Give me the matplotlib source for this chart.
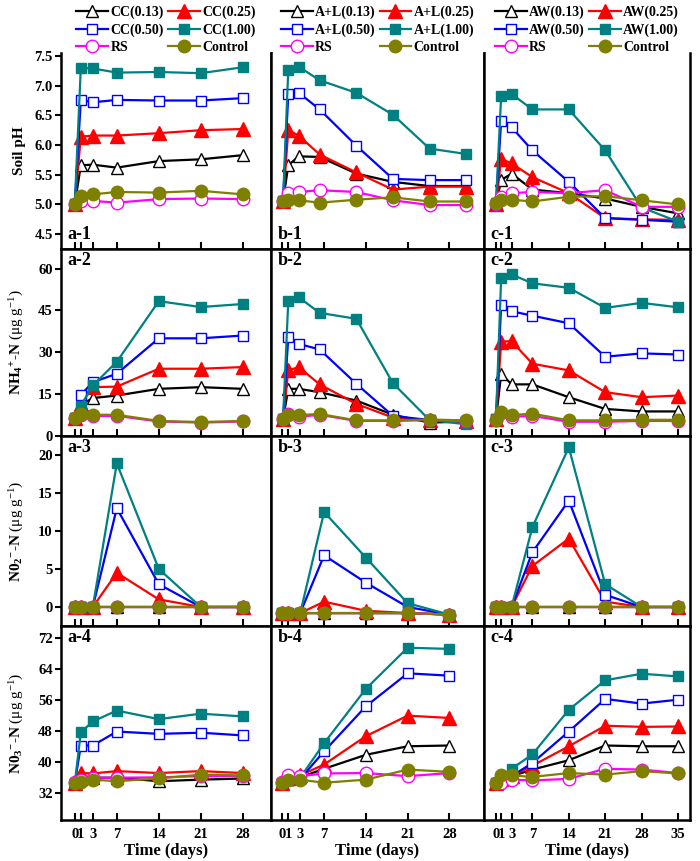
import matplotlib.pyplot as plt
from matplotlib.ticker import FormatStrFormatter

plt.rcParams['font.family'] = ['Liberation Serif', 'DejaVu Serif']
plt.rcParams['font.weight'] = 'bold'
plt.rcParams['axes.labelweight'] = 'bold'
plt.rcParams['mathtext.fontset'] = 'custom'
plt.rcParams['mathtext.rm'] = 'Liberation Serif:weight=normal'
plt.rcParams['mathtext.bf'] = 'Liberation Serif:bold'
plt.rcParams['mathtext.it'] = 'Liberation Serif:italic:weight=normal'

# sampling days
days7 = [0, 1, 3, 7, 14, 21, 28]
days8 = [0, 1, 3, 7, 14, 21, 28, 35]
tick_days = [0, 1, 3, 7, 14, 21, 28]
tick_days_c = [0, 1, 3, 7, 14, 21, 28, 35]

# series order: (0.13), (0.25), (0.50), (1.00), RS, Control
ph_a = [[5.0, 5.66, 5.67, 5.62, 5.73, 5.76, 5.83],
        [5.0, 6.14, 6.16, 6.16, 6.20, 6.25, 6.27],
        [5.0, 6.76, 6.72, 6.76, 6.75, 6.75, 6.79],
        [5.0, 7.30, 7.29, 7.22, 7.23, 7.21, 7.31],
        [5.0, 5.06, 5.06, 5.03, 5.09, 5.10, 5.09],
        [5.0, 5.15, 5.17, 5.21, 5.20, 5.23, 5.17]]
ph_b = [[5.05, 5.66, 5.81, 5.80, 5.52, 5.38, 5.31, 5.31],
        [5.05, 6.25, 6.16, 5.84, 5.54, 5.25, 5.30, 5.30],
        [5.05, 6.86, 6.88, 6.60, 5.99, 5.43, 5.41, 5.41],
        [5.05, 7.27, 7.32, 7.09, 6.88, 6.51, 5.94, 5.85],
        [5.05, 5.19, 5.21, 5.24, 5.21, 5.07, 4.99, 4.99],
        [5.05, 5.07, 5.07, 5.03, 5.08, 5.12, 5.05, 5.05]]
ph_c = [[5.0, 5.41, 5.52, 5.25, 5.19, 5.10, 4.96, 4.85],
        [5.0, 5.77, 5.69, 5.46, 5.19, 4.77, 4.75, 4.74],
        [5.0, 6.41, 6.30, 5.91, 5.38, 4.77, 4.74, 4.71],
        [5.02, 6.83, 6.86, 6.60, 6.60, 5.91, 4.95, 4.71],
        [5.0, 5.13, 5.19, 5.21, 5.19, 5.24, 4.96, 4.96],
        [5.02, 5.07, 5.08, 5.05, 5.13, 5.14, 5.07, 5.0]]

nh4_a = [[6.5, 11.1, 13.6, 14.5, 16.9, 17.5, 16.9],
         [6.5, 11.5, 17.5, 17.7, 24.1, 24.1, 24.7],
         [6.5, 14.7, 19.3, 22.3, 35.0, 35.0, 36.0],
         [6.5, 10.9, 18.1, 26.6, 48.3, 46.2, 47.3],
         [6.6, 7.6, 7.2, 7.2, 5.2, 4.8, 5.2],
         [6.6, 7.8, 7.6, 7.6, 5.4, 5.0, 5.4]]
nh4_b = [[6.0, 16.9, 16.9, 15.7, 12.7, 7.6, 4.8, 5.2],
         [6.0, 23.5, 24.7, 18.5, 11.5, 6.6, 5.7, 5.4],
         [6.0, 35.4, 33.0, 31.0, 18.7, 7.2, 5.7, 5.2],
         [6.0, 48.3, 49.7, 44.1, 42.0, 18.9, 5.7, 4.2],
         [6.0, 7.8, 6.9, 7.6, 5.4, 5.4, 5.7, 5.2],
         [6.0, 7.5, 7.5, 7.9, 5.6, 5.6, 5.9, 5.6]]
nh4_c = [[6.0, 22.3, 18.5, 18.5, 13.9, 9.7, 8.8, 8.8],
         [6.0, 33.8, 34.0, 25.9, 23.5, 15.7, 13.9, 14.5],
         [6.0, 47.1, 44.7, 43.1, 40.4, 28.4, 29.6, 29.2],
         [6.0, 56.7, 57.9, 54.7, 53.1, 45.9, 47.7, 46.1],
         [5.7, 8.1, 6.9, 7.2, 5.1, 5.1, 5.4, 5.4],
         [5.7, 8.5, 7.5, 8.0, 5.6, 5.6, 5.8, 5.8]]

no2_a = [[0, 0, 0, 0, 0, 0, 0],
         [0, 0, 0, 4.5, 1.0, 0, 0],
         [0, 0, 0, 13.0, 3.0, 0, 0],
         [0, 0, 0, 18.9, 5.0, 0, 0],
         [0, 0, 0, 0, 0, 0, 0],
         [0, 0, 0, 0, 0, 0, 0]]
no2_b = [[-0.8, -0.8, -0.8, -0.8, -0.8, -0.8, -1.0],
         [-0.8, -0.8, -0.8, 0.7, -0.5, -0.8, -1.0],
         [-0.8, -0.8, -0.8, 6.8, 3.2, 0.0, -1.0],
         [-0.8, -0.8, -0.8, 12.5, 6.5, 0.5, -1.0],
         [-0.8, -0.8, -0.8, -0.8, -0.8, -0.8, -1.0],
         [-0.8, -0.8, -0.8, -0.8, -0.8, -0.8, -1.0]]
no2_c = [[0, 0, 0, 0, 0, 0, 0, 0],
         [0, 0, 0, 5.4, 9.0, 0.7, 0, 0],
         [0, 0, 0, 7.2, 14.0, 1.6, 0, 0],
         [0, 0, 0, 10.5, 21.0, 3.0, 0, 0],
         [0, 0, 0, 0, 0, 0, 0, 0],
         [0, 0, 0, 0, 0, 0, 0, 0]]

no3_a = [[34.5, 35.6, 35.9, 35.9, 35.0, 35.4, 35.7],
         [34.5, 37.1, 37.0, 37.6, 37.1, 37.6, 37.1],
         [34.5, 44.2, 44.2, 47.8, 47.2, 47.5, 46.8],
         [34.5, 47.6, 50.4, 53.2, 51.0, 52.4, 51.7],
         [34.7, 35.3, 35.9, 35.9, 36.0, 36.3, 36.3],
         [34.5, 34.7, 35.4, 35.0, 35.7, 36.7, 36.5]]
no3_b = [[34.6, 35.5, 36.0, 38.2, 41.8, 44.0, 44.2],
         [34.6, 35.9, 36.5, 39.3, 46.6, 51.9, 51.3],
         [34.6, 35.4, 35.6, 42.7, 54.3, 62.8, 62.2],
         [34.6, 35.4, 35.9, 44.8, 58.8, 69.4, 69.1],
         [34.7, 36.5, 36.3, 37.0, 37.1, 36.3, 37.1],
         [34.6, 35.4, 35.4, 34.6, 35.4, 38.0, 37.4]]
no3_c = [[34.6, 35.5, 36.3, 38.0, 40.4, 44.2, 44.0, 44.0],
         [34.6, 35.5, 36.3, 39.0, 44.0, 49.3, 49.0, 49.1],
         [34.6, 35.5, 36.3, 39.7, 47.8, 56.2, 55.0, 56.0],
         [34.6, 35.9, 38.2, 41.9, 53.4, 61.0, 62.7, 62.0],
         [34.6, 34.6, 35.4, 35.2, 35.6, 38.2, 38.0, 37.1],
         [34.6, 36.7, 36.5, 36.1, 37.1, 36.7, 37.6, 37.0]]

levels = ['(0.13)', '(0.25)', '(0.50)', '(1.00)']
prefixes = ['CC', 'A+L', 'AW']

styles = [dict(color='black', marker='^', mfc='white', mec='black', ms=9),
          dict(color='red', marker='^', mfc='red', mec='red', ms=9.5),
          dict(color='blue', marker='s', mfc='white', mec='blue', ms=7.5),
          dict(color='#008080', marker='s', mfc='#008080', mec='#008080', ms=7.5),
          dict(color='magenta', marker='o', mfc='white', mec='magenta', ms=9),
          dict(color='#808000', marker='o', mfc='#808000', mec='#808000', ms=9)]

panels = [[(days7, ph_a), (days8, ph_b), (days8, ph_c)],
          [(days7, nh4_a), (days8, nh4_b), (days8, nh4_c)],
          [(days7, no2_a), (days7, no2_b), (days8, no2_c)],
          [(days7, no3_a), (days7, no3_b), (days8, no3_c)]]

ylims = [(4.25, 7.55), (0, 67), (-2.5, 22.5), (25, 75)]
yticks = [[4.5, 5.0, 5.5, 6.0, 6.5, 7.0, 7.5], [0, 15, 30, 45, 60],
          [0, 5, 10, 15, 20], [32, 40, 48, 56, 64, 72]]
ylabels = ['Soil pH',
           r'NH$_\mathbf{4}$$^\mathbf{+}$-N $\mathrm{(μg\ g^{-1})}$',
           r'N0$_\mathbf{2}$$^\mathbf{-}$-N $\mathrm{(μg\ g^{-1})}$',
           r'N0$_\mathbf{3}$$^\mathbf{-}$-N $\mathrm{(μg\ g^{-1})}$']
xlims = [(-2.3, 32.7), (-1.9, 33.8), (-2.3, 37.3)]
xlim_long = (-2.3, 38.4)

W, H = 700, 861
col_x = [(61, 271), (271, 484), (484, 690)]
row_y = [(53, 249), (249, 436), (436, 626), (626, 820)]

fig = plt.figure(figsize=(7, 8.61), dpi=100)

legend_handles = [[], [], []]
for r, (yt, yb) in enumerate(row_y):
    for c, (xl, xr) in enumerate(col_x):
        ax = fig.add_axes([xl / W, 1 - yb / H, (xr - xl) / W, (yb - yt) / H])
        x, series = panels[r][c]
        ax.set_xlim(xlims[c])
        ax.set_ylim(ylims[r])
        ax.set_xticks(tick_days_c if c == 2 else tick_days)
        ax.tick_params(axis='x', direction='in', length=5, width=1.5,
                       labelsize=10.5, labelbottom=(r == 3), pad=6)
        if c == 0:
            ax.set_yticks(yticks[r])
            ax.tick_params(axis='y', direction='out', length=4, width=1.5,
                           labelsize=10.5, pad=2)
            if r == 0:
                ax.yaxis.set_major_formatter(FormatStrFormatter('%.1f'))
            ax.set_ylabel(ylabels[r], fontsize=11)
            ax.yaxis.set_label_coords(-0.165, 0.5)
        else:
            ax.set_yticks([])
        for s in ax.spines.values():
            s.set_linewidth(1.8)
        if r == 0:
            ax.spines['top'].set_visible(False)

        target = ax
        if c == 1 and len(x) == 8:
            # these two panels were drawn on a longer time scale
            target = ax.twiny()
            target.set_xlim(xlim_long)
            target.set_ylim(ylims[r])
            target.axis('off')
        for i, vals in enumerate(series):
            st = styles[i]
            ln, = target.plot(x, vals, color=st['color'], lw=1.6,
                              marker=st['marker'], ms=st['ms'],
                              mfc=st['mfc'], mec=st['mec'], mew=1.0,
                              clip_on=False)
            if r == 0:
                legend_handles[c].append(ln)

        label = 'abc'[c] + '-' + str(r + 1)
        if r == 0:
            ax.text(0.03, 0.03, label, transform=ax.transAxes, fontsize=13,
                    ha='left', va='bottom')
        else:
            ax.text(0.03, 0.985, label, transform=ax.transAxes, fontsize=13,
                    ha='left', va='top')
        if r == 3:
            ax.set_xlabel('Time (days)', fontsize=12, labelpad=1)

order = [0, 2, 4, 1, 3, 5]
for c, (xl, xr) in enumerate(col_x):
    names = [prefixes[c] + lv for lv in levels] + ['RS', 'Control']
    fig.legend([legend_handles[c][k] for k in order], [names[k] for k in order],
               ncol=2, loc='upper center',
               bbox_to_anchor=((xl + xr) / 2 / W, 1.003),
               frameon=False, fontsize=10, handlelength=2.3,
               handletextpad=0.15, columnspacing=0.3, labelspacing=0.3,
               borderpad=0.1, numpoints=1)

fig.savefig('out.png', dpi=100)
